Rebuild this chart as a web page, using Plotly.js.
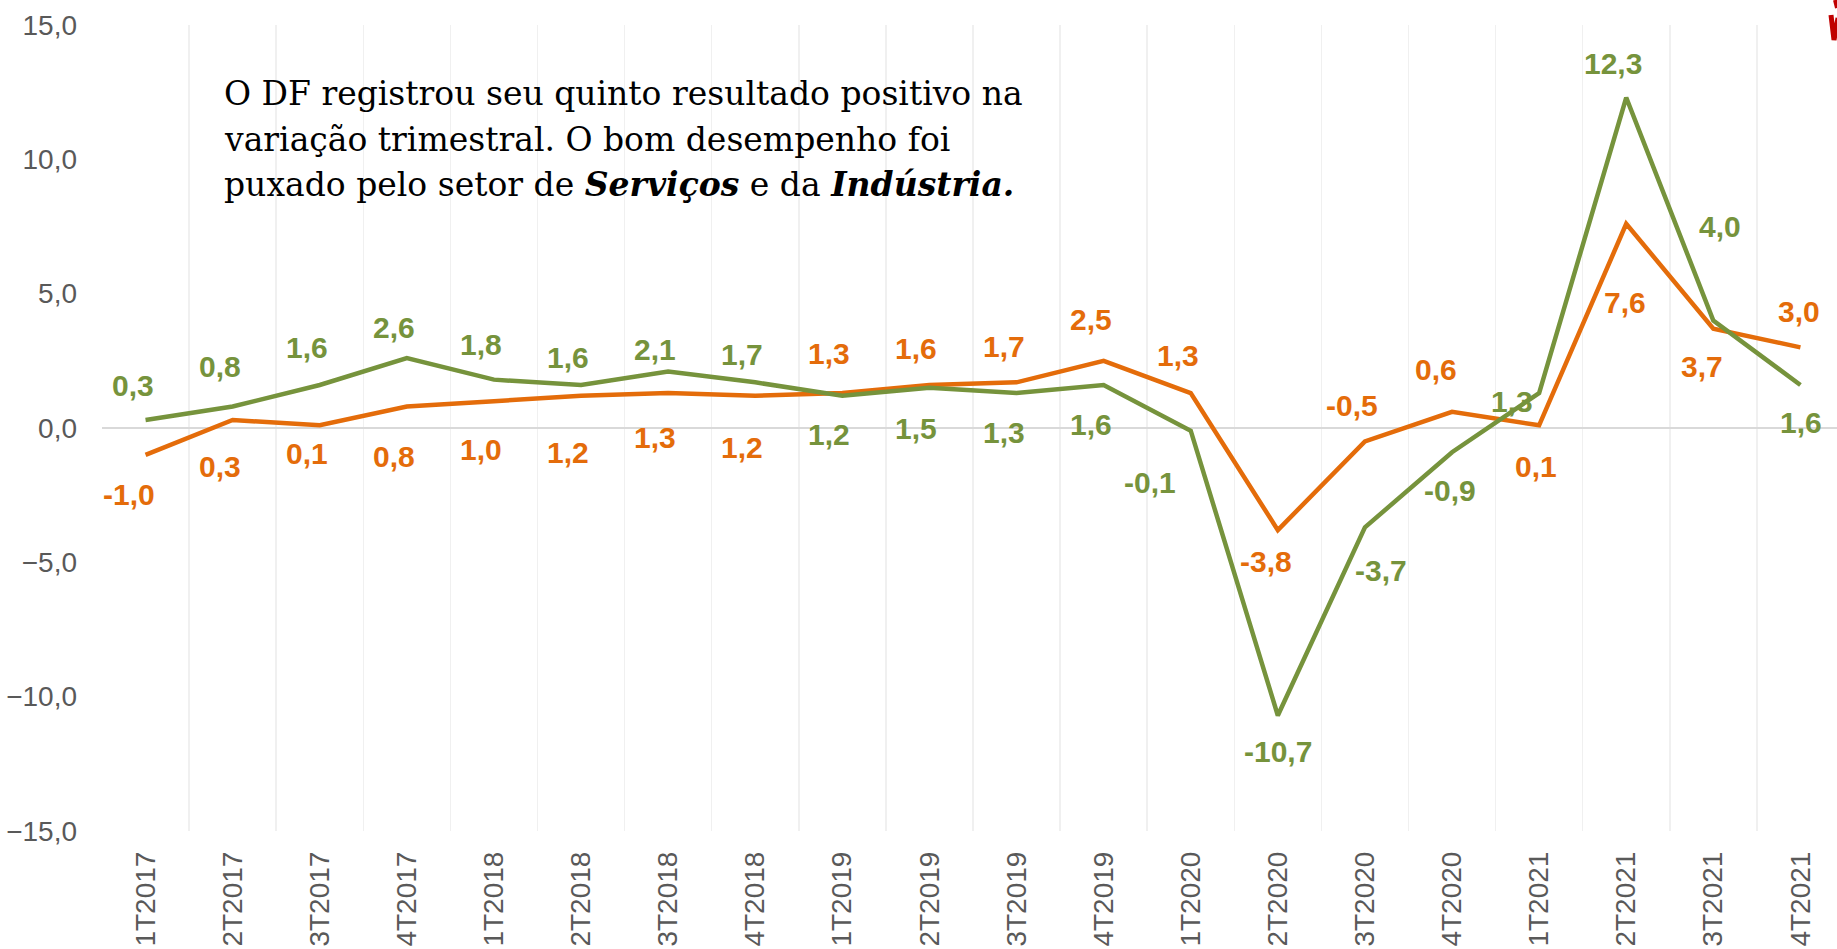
<!DOCTYPE html>
<html><head><meta charset="utf-8">
<script src="https://cdn.plot.ly/plotly-3.0.1.min.js"></script>
<style>html,body{margin:0;padding:0;background:#fff;overflow:hidden}#chart{width:1837px;height:949px}</style>
</head><body><div id="chart"></div>
<script>
const categories = ['1T2017','2T2017','3T2017','4T2017','1T2018','2T2018','3T2018','4T2018','1T2019','2T2019','3T2019','4T2019','1T2020','2T2020','3T2020','4T2020','1T2021','2T2021','3T2021','4T2021'];
const seriesGreen  = [0.3, 0.8, 1.6, 2.6, 1.8, 1.6, 2.1, 1.7, 1.2, 1.5, 1.3, 1.6, -0.1, -10.7, -3.7, -0.9, 1.3, 12.3, 4.0, 1.6];
const seriesOrange = [-1.0, 0.3, 0.1, 0.8, 1.0, 1.2, 1.3, 1.2, 1.3, 1.6, 1.7, 2.5, 1.3, -3.8, -0.5, 0.6, 0.1, 7.6, 3.7, 3.0];
const yTicks = [-15, -10, -5, 0, 5, 10, 15];

// label offsets in pixels (dx right, dy down) relative to each point
const greenDx  = [-13,-13,-13,-13,-13,-13,-13,-13,-13,-13,-13,-13,-41,0,16,-2,-27,-13,7,1];
const greenDy  = [-34,-40,-38,-31,-35,-28,-22,-28,39,41,39,39,52,36,43,38,8,-34,-94,37];
const orangeDx = [-17,-13,-13,-13,-13,-13,-13,-13,-13,-13,-13,-13,-13,-12,-13,-16,-3,-1,-11,-1];
const orangeDy = [40,47,28,50,48,57,44,52,-40,-37,-36,-41,-38,31,-36,-42,41,79,38,-36];

const GREEN = '#76933c';
const ORANGE = '#e46c0a';
const fmt = v => v.toFixed(1).replace('.', ',');

const traces = [
  {x: categories, y: seriesOrange, type: 'scatter', mode: 'lines', line: {color: ORANGE, width: 4.5}, hoverinfo: 'skip'},
  {x: categories, y: seriesGreen, type: 'scatter', mode: 'lines', line: {color: GREEN, width: 4.5}, hoverinfo: 'skip'}
];

const annotations = [];
function addLabels(vals, dx, dy, color) {
  vals.forEach((v, i) => {
    annotations.push({
      x: categories[i], y: v, xref: 'x', yref: 'y', text: fmt(v), showarrow: false,
      xanchor: 'center', yanchor: 'middle', xshift: dx[i], yshift: -dy[i],
      font: {family: 'Liberation Sans, Arial, sans-serif', size: 30, color: color, weight: 'bold'}
    });
  });
}
addLabels(seriesGreen, greenDx, greenDy, GREEN);
addLabels(seriesOrange, orangeDx, orangeDy, ORANGE);

const textFont = {family: 'DejaVu Serif, serif', size: 33, color: '#000'};
const textLines = [
  'O DF registrou seu quinto resultado positivo na',
  'variação trimestral. O bom desempenho foi',
  'puxado pelo setor de <b><i>Serviços</i></b> e da <b><i>Indústria.</i></b>'
];
const textY = [0.9144, 0.8579, 0.8015];
textLines.forEach((t, i) => {
  annotations.push({xref: 'paper', yref: 'paper', x: 0.0692, y: textY[i], xanchor: 'left', yanchor: 'middle',
    text: t, showarrow: false, align: 'left', font: textFont});
});

const layout = {
  width: 1837, height: 949,
  margin: {l: 102, r: 0, t: 25, b: 118, pad: 0},
  paper_bgcolor: '#ffffff', plot_bgcolor: '#ffffff',
  showlegend: false,
  separators: ',.',
  xaxis: {
    type: 'category', range: [-0.5, 19.42], tickson: 'boundaries',
    showgrid: true, gridcolor: '#f0f0f0', gridwidth: 1.5,
    showline: false, zeroline: false, ticks: '',
    tickangle: -90, ticklabelstandoff: 14,
    tickfont: {family: 'Liberation Sans, Arial, sans-serif', size: 28, color: '#595959'},
    fixedrange: true
  },
  yaxis: {
    range: [-15, 15], tickvals: yTicks, tickformat: '.1f',
    showgrid: false, zeroline: true, zerolinecolor: '#d9d9d9', zerolinewidth: 2,
    showline: false, ticks: '', ticklabelstandoff: 24,
    tickfont: {family: 'Liberation Sans, Arial, sans-serif', size: 28, color: '#595959'},
    fixedrange: true
  },
  annotations: annotations,
  shapes: [
    {type: 'path', xref: 'paper', yref: 'paper', layer: 'above',
     path: 'M 0.99654 1.01241 L 0.99827 0.98139 L 1.00058 1.00868',
     line: {color: '#c00000', width: 5}},
    {type: 'path', xref: 'paper', yref: 'paper', layer: 'above',
     path: 'M 0.99885 1.03102 L 1.0 1.02109',
     line: {color: '#c00000', width: 4}}
  ]
};

Plotly.newPlot('chart', traces, layout, {displayModeBar: false, staticPlot: true});
</script>
</body></html>
